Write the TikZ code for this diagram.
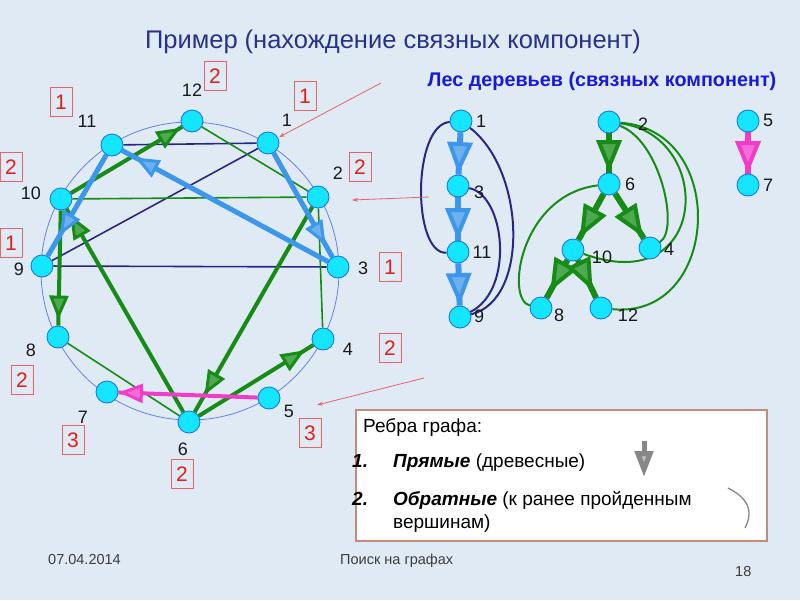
\documentclass[tikz,border=0pt]{standalone}
\usepackage{fontspec}
\setmainfont{Liberation Sans}
\usetikzlibrary{arrows.meta,backgrounds,decorations.markings}

\definecolor{fundo}{RGB}{224,234,245}
\definecolor{ciano}{RGB}{20,230,255}
\definecolor{bordav}{RGB}{20,110,225}
\definecolor{bordacirc}{RGB}{100,130,225}
\definecolor{verde}{RGB}{22,140,22}
\definecolor{azulclaro}{RGB}{60,150,235}
\definecolor{marinho}{RGB}{40,40,130}
\definecolor{rosa}{RGB}{240,60,200}
\definecolor{verm}{RGB}{225,30,30}
\definecolor{vermclaro}{RGB}{230,100,100}
\definecolor{titulo}{RGB}{40,50,135}
\definecolor{subtitulo}{RGB}{25,25,220}
\definecolor{borda}{RGB}{195,140,122}
\definecolor{cinza}{RGB}{135,135,135}
\definecolor{rodape}{RGB}{60,60,60}

\begin{document}
\begin{tikzpicture}[x=1pt, y=-1pt,
		vertice/.style={
			draw=bordav,
			circle,
			fill=ciano,
			minimum size=22pt,
			inner sep=0pt,
			line width=0.8pt
		},
		rotulo/.style={
			inner sep=0pt,
			text=black!90,
			font=\fontsize{18}{18}\selectfont
		},
		marca/.style={
			draw=vermclaro,
			rectangle,
			minimum width=22pt,
			minimum height=29pt,
			inner sep=0pt,
			line width=0.8pt,
			text=verm,
			font=\fontsize{21}{21}\selectfont
		},
		texto/.style={
			inner sep=0pt,
			text=black,
			font=\fontsize{19}{19}\selectfont
		},
		seta/.style 2 args={
			line width=4pt,
			color=#1,
			postaction={decorate},
			decoration={markings, mark=at position -#2 with {\arrow{Triangle[length=24pt, width=19pt, line width=3pt, fill=#1!75!white]}}}
		},
		setagrande/.style 2 args={
			line width=6pt,
			color=#1,
			postaction={decorate},
			decoration={markings, mark=at position -#2 with {\arrow{Triangle[length=32pt, width=25pt, line width=4pt, fill=#1!75!white]}}}
		},
		retorno/.style={
			line width=1.6pt,
			color=#1
		},
		ponteiro/.style={
			line width=0.8pt,
			color=vermclaro,
			-{Stealth[length=6pt, width=4pt]}
		}
		]
		
		\useasboundingbox (0,0) rectangle (800,600);
		\begin{scope}[on background layer]
			\fill[fundo] (0,0) rectangle (800,600);
		\end{scope}
		
		\node[font=\fontsize{25.5}{25.5}\selectfont, text=titulo, anchor=base] (tit) at (393,48) {Пример (нахождение связных компонент)};
		\node[font=\fontsize{19.8}{19.8}\selectfont\bfseries, text=subtitulo, anchor=base] (sub) at (602,86) {Лес деревьев (связных компонент)};
		
		% grafo
		\node[vertice] (c1) at (268,143) {};
		\node[vertice] (c2) at (318,197) {};
		\node[vertice] (c3) at (338,267) {};
		\node[vertice] (c4) at (323,339) {};
		\node[vertice] (c5) at (269,398) {};
		\node[vertice] (c6) at (189,422) {};
		\node[vertice] (c7) at (107,392) {};
		\node[vertice] (c8) at (58,337) {};
		\node[vertice] (c9) at (42,266) {};
		\node[vertice] (c10) at (61,199) {};
		\node[vertice] (c11) at (112,145) {};
		\node[vertice] (c12) at (192,121) {};
		
		\node[rotulo] (l1) at (287,120) {1};
		\node[rotulo] (l2) at (338,173) {2};
		\node[rotulo] (l3) at (363,268) {3};
		\node[rotulo] (l4) at (348,349) {4};
		\node[rotulo] (l5) at (289,411) {5};
		\node[rotulo] (l6) at (183,449) {6};
		\node[rotulo] (l7) at (83,417) {7};
		\node[rotulo] (l8) at (31,350) {8};
		\node[rotulo] (l9) at (19,269) {9};
		\node[rotulo] (l10) at (31,193) {10};
		\node[rotulo] (l11) at (87,121) {11};
		\node[rotulo] (l12) at (192,90) {12};
		
		\node[marca] (m1) at (305,96) {1};
		\node[marca] (m2) at (360,167) {2};
		\node[marca] (m3) at (390,267) {1};
		\node[marca] (m4) at (390,348) {2};
		\node[marca] (m5) at (310,433) {3};
		\node[marca] (m6) at (182,474) {2};
		\node[marca] (m7) at (73,440) {3};
		\node[marca] (m8) at (22,380) {2};
		\node[marca] (m9) at (11,243) {1};
		\node[marca] (m10) at (11,167) {2};
		\node[marca] (m11) at (61,102) {1};
		\node[marca] (m12) at (215,76) {2};
		
		% floresta
		\node[vertice] (t1) at (461,121) {};
		\node[vertice] (t3) at (458,186) {};
		\node[vertice] (t11) at (458,252) {};
		\node[vertice] (t9) at (460,317) {};
		\node[vertice] (t2) at (609,122) {};
		\node[vertice] (t6) at (609,184) {};
		\node[vertice] (t10) at (573,250) {};
		\node[vertice] (t4) at (650,248) {};
		\node[vertice] (t8) at (541,308) {};
		\node[vertice] (t12) at (601,308) {};
		\node[vertice] (t5) at (748,121) {};
		\node[vertice] (t7) at (748,185) {};
		
		\node[rotulo] (r1) at (481,121) {1};
		\node[rotulo] (r3) at (479,192) {3};
		\node[rotulo] (r11) at (482,252) {11};
		\node[rotulo] (r9) at (479,316) {9};
		\node[rotulo] (r2) at (643,124) {2};
		\node[rotulo] (r6) at (630,184) {6};
		\node[rotulo] (r10) at (602,257) {10};
		\node[rotulo] (r4) at (669,249) {4};
		\node[rotulo] (r8) at (559,315) {8};
		\node[rotulo] (r12) at (628,315) {12};
		\node[rotulo] (r5) at (768,120) {5};
		\node[rotulo] (r7) at (768,185) {7};
		
		\begin{scope}[on background layer]
			\draw[bordacirc, line width=0.8pt] (190,271) circle[radius=149pt];
			
			%Linhas
			\draw[retorno=marinho] (c11) -- (c1);
			\draw[retorno=marinho] (c1) -- (c9);
			\draw[retorno=marinho] (c9) -- (c3);
			\draw[retorno=verde] (c12) -- (c2);
			\draw[retorno=verde] (c10) -- (c2);
			\draw[retorno=verde] (c2) -- (c4);
			\draw[retorno=verde] (c8) -- (c6);
			
			\draw[seta={verde}{2pt}] (c10) -- (c12);
			\draw[seta={verde}{20pt}] (c2) -- (c6);
			\draw[seta={verde}{7pt}] (c6) -- (c10);
			\draw[seta={verde}{6pt}] (c10) -- (c8);
			\draw[seta={verde}{10pt}] (c6) -- (c4);
			\draw[seta={azulclaro}{14pt}, line width=5pt] (c1) -- (c3);
			\draw[seta={azulclaro}{15pt}, line width=5pt] (c3) -- (c11);
			\draw[seta={azulclaro}{24pt}, line width=5pt] (c11) -- (c9);
			\draw[seta={rosa}{0.5pt}] (c5) -- (c7);
			
			\draw[retorno=marinho, line width=2pt] (t1) .. controls (412,125) and (412,255) .. (t11);
			\draw[retorno=marinho, line width=2pt] (t1) .. controls (525,170) and (530,300) .. (t9);
			\draw[retorno=marinho, line width=2pt] (t3) .. controls (505,195) and (515,290) .. (t9);
			\draw[retorno=verde, line width=2pt] (t2) .. controls (660,140) and (680,230) .. (t4);
			\draw[retorno=verde, line width=2pt] (t2) .. controls (715,135) and (710,300) .. (t10);
			\draw[retorno=verde, line width=2pt] (t2) .. controls (730,130) and (720,320) .. (t12);
			\draw[retorno=verde, line width=2pt] (t6) .. controls (520,195) and (505,300) .. (t8);
			
			\draw[setagrande={azulclaro}{0.5pt}] (t1) -- (t3);
			\draw[setagrande={azulclaro}{0.5pt}] (t3) -- (t11);
			\draw[setagrande={azulclaro}{0.5pt}] (t11) -- (t9);
			\draw[setagrande={verde}{0.5pt}] (t2) -- (t6);
			\draw[setagrande={verde}{3pt}] (t6) -- (t10);
			\draw[setagrande={verde}{2pt}] (t6) -- (t4);
			\draw[setagrande={verde}{8pt}] (t10) -- (t8);
			\draw[setagrande={verde}{8pt}] (t10) -- (t12);
			\draw[setagrande={rosa}{0.5pt}] (t5) -- (t7);
		\end{scope}
		
		% ponteiros
		\coordinate (pa) at (381,83);
		\coordinate (pb0) at (429,197);
		\coordinate (pb1) at (352,200);
		\coordinate (pc0) at (424,378);
		\coordinate (pc1) at (317,405);
		\draw[ponteiro, shorten >=1pt] (pa) -- (c1);
		\draw[ponteiro] (pb0) -- (pb1);
		\draw[ponteiro] (pc0) -- (pc1);
		
		% legenda
		\node[draw=borda, fill=white, line width=2pt, minimum width=411pt, minimum height=131pt, inner sep=0pt, anchor=north west] (legenda) at (355,409) {};
		\node[texto, anchor=base west] (leg0) at (363,432) {Ребра графа:};
		\node[texto, anchor=base west] (num1) at (352,467) {\textbf{\textit{1.}}};
		\node[texto, anchor=base west] (leg1) at (393,467) {\textbf{\textit{Прямые}} (древесные)};
		\node[texto, anchor=base west] (num2) at (352,505) {\textbf{\textit{2.}}};
		\node[texto, anchor=base west] (leg2) at (393,505) {\textbf{\textit{Обратные}} (к ранее пройденным};
		\node[texto, anchor=base west] (leg3) at (393,528) {вершинам)};
		
		\coordinate (ic0) at (644,441);
		\coordinate (ic1) at (644,477);
		\draw[cinza, line width=5pt, -{Triangle[length=26pt, width=18pt, fill=cinza!55!white]}] (ic0) -- (ic1);
		\draw[cinza, line width=1.3pt] (728,488) .. controls (752,500) and (752,515) .. (745,528);
		
		% rodape
		\node[font=\fontsize{14.5}{14.5}\selectfont, text=rodape, anchor=base west, inner sep=0pt] (data) at (48,564) {07.04.2014};
		\node[font=\fontsize{14.5}{14.5}\selectfont, text=rodape, anchor=base west, inner sep=0pt] (tema) at (340,564) {Поиск на графах};
		\node[font=\fontsize{14.5}{14.5}\selectfont, text=rodape, anchor=base west, inner sep=0pt] (pag) at (735,576) {18};
		
	\end{tikzpicture}
\end{document}
